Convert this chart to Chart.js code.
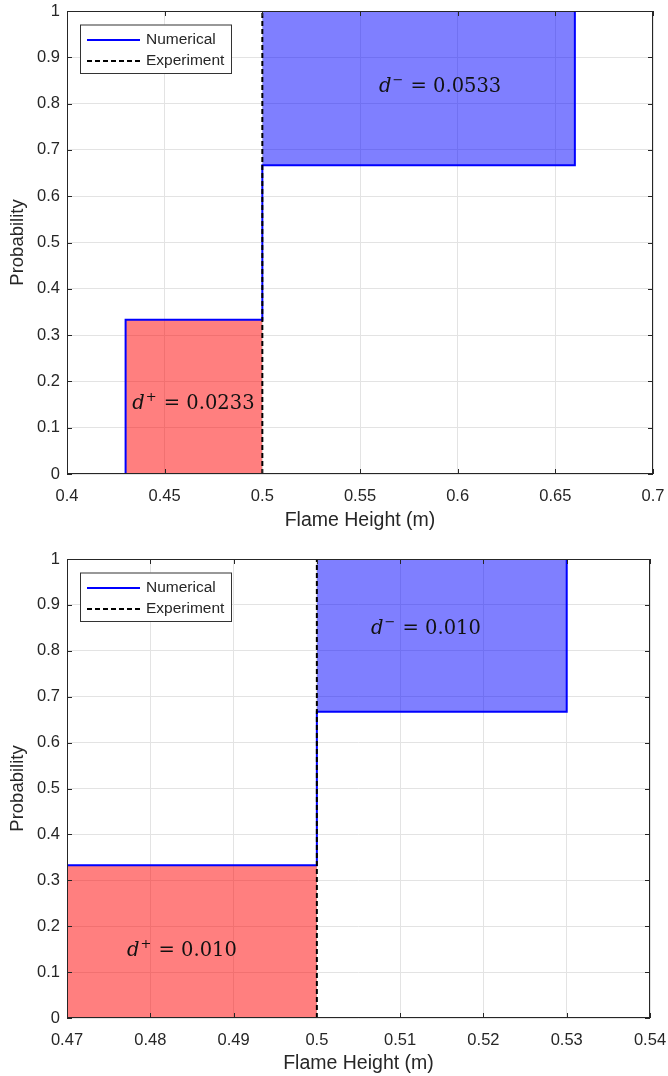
<!DOCTYPE html>
<html>
<head>
<meta charset="utf-8">
<script src="https://cdn.jsdelivr.net/npm/chart.js@4"></script>
<style>
  html, body { margin: 0; padding: 0; background: #fff; }
  .panel { position: absolute; left: 0; width: 668px; }
  #top { top: 0; height: 540px; }
  #bottom { top: 540px; height: 536px; }
</style>
</head>
<body>
<div class="panel" id="top"><canvas id="chartTop"></canvas></div>
<div class="panel" id="bottom"><canvas id="chartBottom"></canvas></div>
<script>
// empirical CDF levels (3 samples)
const cdfLevels = [0.333, 0.667, 1];
const yTicks = [0, 0.1, 0.2, 0.3, 0.4, 0.5, 0.6, 0.7, 0.8, 0.9, 1];

// top panel
const topNumerical = [0.43, 0.5, 0.66];
const topExperiment = [0.5];
const topXTicks = [0.4, 0.45, 0.5, 0.55, 0.6, 0.65, 0.7];
const topDplus = '0.0233';
const topDminus = '0.0533';

// bottom panel
const bottomNumerical = [0.47, 0.5, 0.53];
const bottomExperiment = [0.5];
const bottomXTicks = [0.47, 0.48, 0.49, 0.5, 0.51, 0.52, 0.53, 0.54];
const bottomDplus = '0.010';
const bottomDminus = '0.010';

Chart.defaults.font.family = '"Liberation Sans", Arial, sans-serif';
const axisColor = '#262626';
const dash = [5, 3];

// step line of an empirical cdf
function stepPoints(xs, levels) {
  const pts = [{ x: xs[0], y: 0 }];
  for (let i = 0; i < xs.length; i++) {
    pts.push({ x: xs[i], y: levels[i] });
    if (i + 1 < xs.length) pts.push({ x: xs[i + 1], y: levels[i] });
  }
  return pts;
}

function fmt(v) { return String(parseFloat(v.toFixed(4))); }

// d+ / d- label, italic d with a raised sign
function drawD(ctx, cx, baseline, sign, value) {
  const ital = 'italic 19.5px "DejaVu Serif"';
  const small = '13px "DejaVu Serif"';
  const big = '19.5px "DejaVu Serif"';
  const rest = ' = ' + value;
  ctx.font = ital; const wd = ctx.measureText('d').width;
  ctx.font = small; const ws = ctx.measureText(sign).width;
  ctx.font = big; const wr = ctx.measureText(rest).width;
  let x = cx - (wd + ws + 2 + wr) / 2;
  ctx.fillStyle = '#111';
  ctx.textAlign = 'left';
  ctx.textBaseline = 'alphabetic';
  ctx.font = ital; ctx.fillText('d', x, baseline); x += wd + 1;
  ctx.font = small; ctx.fillText(sign, x, baseline - 8); x += ws + 1;
  ctx.font = big; ctx.fillText(rest, x, baseline);
}

const matlabBox = {
  id: 'matlabBox',
  afterDatasetsDraw(chart, args, opts) {
    const ctx = chart.ctx;
    const a = chart.chartArea;
    const xs = chart.scales.x, ys = chart.scales.y;
    ctx.save();
    // annotations
    opts.notes.forEach(n => {
      drawD(ctx, xs.getPixelForValue(n.x), ys.getPixelForValue(n.y), n.sign, n.value);
    });
    // legend
    const lx = a.left + 13, ly = a.top + 13.5, lw = 151, lh = 48.5;
    ctx.fillStyle = '#fff';
    ctx.fillRect(lx, ly, lw, lh);
    ctx.strokeStyle = '#333';
    ctx.lineWidth = 1;
    ctx.strokeRect(lx + 0.5, ly + 0.5, lw, lh);
    const rows = [
      { label: 'Numerical', color: '#0000ff', dash: [] },
      { label: 'Experiment', color: '#000', dash: dash }
    ];
    rows.forEach((r, i) => {
      const yy = ly + 15.5 + i * 21;
      ctx.beginPath();
      ctx.setLineDash(r.dash);
      ctx.strokeStyle = r.color;
      ctx.lineWidth = 1.8;
      ctx.moveTo(lx + 7, yy);
      ctx.lineTo(lx + 60, yy);
      ctx.stroke();
      ctx.setLineDash([]);
      ctx.fillStyle = axisColor;
      ctx.font = '15.5px "Liberation Sans", Arial, sans-serif';
      ctx.textBaseline = 'middle';
      ctx.textAlign = 'left';
      ctx.fillText(r.label, lx + 66, yy);
    });
    ctx.restore();
  },
  afterDraw(chart) {
    const ctx = chart.ctx;
    const a = chart.chartArea;
    const xs = chart.scales.x, ys = chart.scales.y;
    ctx.save();
    ctx.strokeStyle = axisColor;
    ctx.lineWidth = 1;
    ctx.strokeRect(a.left + 0.5, a.top + 0.5, a.right - a.left - 1, a.bottom - a.top - 1);
    ctx.beginPath();
    xs.ticks.forEach(t => {
      const px = Math.round(xs.getPixelForValue(t.value)) + 0.5;
      ctx.moveTo(px, a.bottom); ctx.lineTo(px, a.bottom - 5);
      ctx.moveTo(px, a.top); ctx.lineTo(px, a.top + 5);
    });
    ys.ticks.forEach(t => {
      const py = Math.round(ys.getPixelForValue(t.value)) + 0.5;
      ctx.moveTo(a.left, py); ctx.lineTo(a.left + 5, py);
      ctx.moveTo(a.right, py); ctx.lineTo(a.right - 5, py);
    });
    ctx.stroke();
    ctx.restore();
  }
};

function makeChart(id, p) {
  const num = p.numerical, exp = p.experiment;
  return new Chart(document.getElementById(id), {
    type: 'line',
    data: {
      datasets: [
        {
          label: 'Experiment',
          data: stepPoints(exp, [1]),
          borderColor: '#000', borderWidth: 2, borderDash: dash,
          pointRadius: 0, fill: false, order: 0
        },
        {
          label: 'Numerical',
          data: stepPoints(num, cdfLevels),
          borderColor: '#0000ff', borderWidth: 2,
          pointRadius: 0, fill: false, order: 1
        },
        {
          label: 'over',
          data: [{ x: num[0], y: cdfLevels[0] }, { x: exp[0], y: cdfLevels[0] }],
          borderColor: 'transparent', borderWidth: 0,
          backgroundColor: 'rgba(255,0,0,0.5)',
          pointRadius: 0, fill: 'origin', order: 2
        },
        {
          label: 'under',
          data: [{ x: exp[0], y: 1 }, { x: num[num.length - 1], y: 1 }],
          borderColor: 'transparent', borderWidth: 0,
          backgroundColor: 'rgba(0,0,255,0.5)',
          pointRadius: 0, fill: { value: cdfLevels[1] }, order: 2
        }
      ]
    },
    options: {
      responsive: true,
      maintainAspectRatio: false,
      animation: false,
      layout: { padding: { top: p.padTop, right: p.padRight, left: 0, bottom: 0 } },
      plugins: {
        legend: { display: false },
        tooltip: { enabled: false },
        matlabBox: { notes: p.notes }
      },
      scales: {
        x: {
          type: 'linear',
          min: p.xTicks[0],
          max: p.xTicks[p.xTicks.length - 1],
          afterBuildTicks: s => { s.ticks = p.xTicks.map(v => ({ value: v })); },
          afterFit: s => { s.height = p.xHeight; s.paddingLeft = 0; s.paddingRight = 0; },
          grid: { color: '#e3e3e3', drawTicks: false },
          border: { display: false },
          ticks: {
            color: axisColor, font: { size: 16.5 }, padding: 13,
            maxRotation: 0, autoSkip: false, callback: v => fmt(v)
          },
          title: {
            display: true, text: 'Flame Height (m)', color: axisColor,
            font: { size: 19.5 }, padding: { top: 0, bottom: p.titlePad }
          }
        },
        y: {
          min: 0,
          max: 1,
          afterBuildTicks: s => { s.ticks = yTicks.map(v => ({ value: v })); },
          afterFit: s => { s.width = 67; s.paddingTop = 0; s.paddingBottom = 0; },
          grid: { color: '#e3e3e3', drawTicks: false },
          border: { display: false },
          ticks: {
            color: axisColor, font: { size: 16.5 }, padding: 7,
            autoSkip: false, callback: v => fmt(v)
          },
          title: {
            display: true, text: 'Probability', color: axisColor,
            font: { size: 18.5 }, padding: { top: 7, bottom: 0 }
          }
        }
      }
    },
    plugins: [matlabBox]
  });
}

makeChart('chartTop', {
  numerical: topNumerical,
  experiment: topExperiment,
  xTicks: topXTicks,
  padTop: 11, padRight: 15, xHeight: 66, titlePad: 8,
  notes: [
    { x: 0.591, y: 0.826, sign: '\u2212', value: topDminus },
    { x: 0.4647, y: 0.1405, sign: '+', value: topDplus }
  ]
});

makeChart('chartBottom', {
  numerical: bottomNumerical,
  experiment: bottomExperiment,
  xTicks: bottomXTicks,
  padTop: 19, padRight: 18, xHeight: 58, titlePad: 1,
  notes: [
    { x: 0.5131, y: 0.8366, sign: '\u2212', value: bottomDminus },
    { x: 0.4838, y: 0.135, sign: '+', value: bottomDplus }
  ]
});
</script>
</body>
</html>
